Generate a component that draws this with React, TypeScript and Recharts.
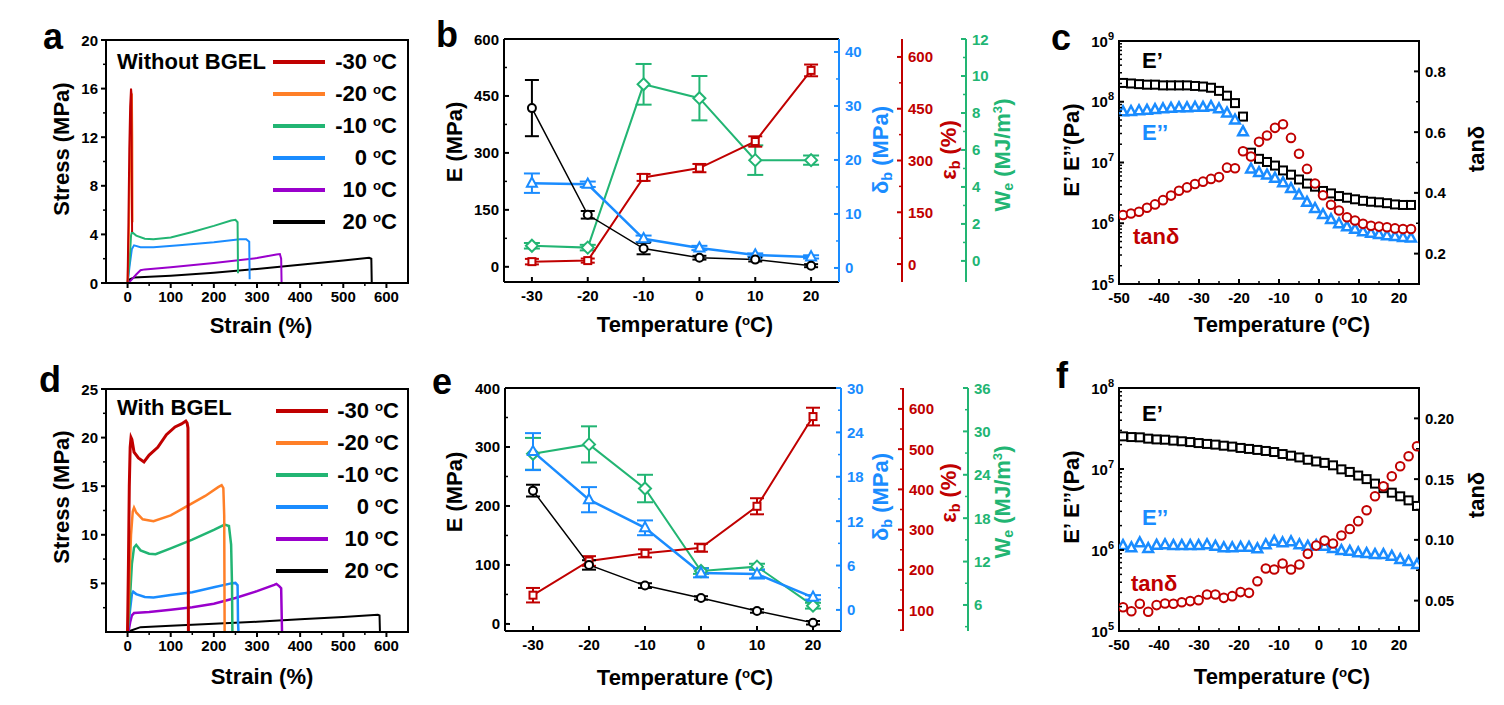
import React from 'react'
import { ComposedChart, Line, XAxis, YAxis, ReferenceArea, ReferenceLine, ErrorBar } from 'recharts'

const FONT = '"Liberation Sans", Arial, Helvetica, sans-serif'
const RED = '#C00000'
const ORANGE = '#FF7F27'
const GREEN = '#22B573'
const BLUE = '#1A8CFF'
const PURPLE = '#9A00CC'
const BLACK = '#000000'

// ---------- a: stress-strain, without BGEL  [strain %, stress MPa]
const aM30 = [[0, 0], [2, 5], [4, 11], [6, 14.5], [8, 16], [9, 15.6], [10, 8], [10.5, 4.2]]
const aM20 = [[0, 0], [3, 4], [6, 10], [8, 14], [10, 15.6], [11, 12], [11.5, 5]]
const aM10 = [[0, 0], [5, 2], [8, 3.9], [10, 4.2], [20, 3.9], [40, 3.65], [60, 3.6], [100, 3.75], [150, 4.2], [200, 4.7], [240, 5.15], [250, 5.2], [255, 5.0], [256, 0.8]]
const aZero = [[0, 0], [5, 1.5], [10, 2.8], [15, 3.1], [30, 2.95], [60, 2.95], [120, 3.1], [200, 3.35], [260, 3.6], [275, 3.6], [282, 3.4], [283, 0.3]]
const aP10 = [[2, 0], [10, 0.3], [20, 0.7], [30, 1.05], [40, 1.12], [100, 1.3], [200, 1.65], [300, 2.05], [345, 2.35], [353, 2.38], [356, 2.0], [357, 0]]
const aP20 = [[0, 0], [5, 0.3], [15, 0.45], [100, 0.6], [200, 0.85], [300, 1.15], [400, 1.5], [500, 1.85], [560, 2.07], [565, 2.0], [566, 0]]

// ---------- d: stress-strain, with BGEL
const dM30 = [[0, 0], [2, 7], [4, 15], [6, 19], [8, 20], [10, 19.8], [15, 18.5], [25, 17.9], [38, 17.5], [50, 18.2], [70, 19], [90, 20.3], [110, 21.1], [125, 21.4], [135, 21.7], [138, 21.5], [140, 21], [141, 0]]
const dM20 = [[0, 0], [4, 5], [8, 10], [12, 12.4], [15, 12.8], [20, 12.3], [35, 11.6], [60, 11.4], [100, 12], [140, 13], [180, 14], [210, 14.9], [218, 15.1], [222, 14.8], [224, 12], [225, 0]]
const dM10 = [[0, 0], [5, 3], [10, 7], [15, 8.7], [20, 8.95], [30, 8.4], [50, 8.05], [65, 8.0], [100, 8.6], [150, 9.5], [200, 10.5], [225, 11.05], [235, 10.9], [240, 9], [242, 5], [243, 0]]
const dZero = [[0, 0], [5, 2], [10, 3.9], [13, 4.15], [20, 3.9], [40, 3.6], [60, 3.55], [100, 3.8], [150, 4.1], [200, 4.6], [240, 5.0], [250, 5.05], [255, 4.8], [256, 1], [257, 0]]
const dP10 = [[2, 0], [6, 1], [10, 1.7], [15, 1.95], [50, 2.05], [100, 2.3], [150, 2.55], [200, 2.9], [250, 3.5], [300, 4.2], [340, 4.85], [345, 4.95], [352, 4.7], [356, 4.5], [358, 0]]
const dP20 = [[0, 0], [5, 0.1], [30, 0.5], [100, 0.65], [200, 0.85], [300, 1.05], [400, 1.3], [500, 1.55], [580, 1.78], [584, 1.7], [585, 0]]

const legendTemps = ['-30', '-20', '-10', '0', '10', '20']
const legendColors = [RED, ORANGE, GREEN, BLUE, PURPLE, BLACK]

// ---------- b / e: properties vs temperature
const mechTemps = [-30, -20, -10, 0, 10, 20]
const bModulus = [418, 137, 48, 24, 19, 3]
const bModulusErr = [74, 10, 15, 5, 5, 4]
const bStrength = [15.7, 15.5, 5.4, 3.7, 2.4, 2.05]
const bStrengthErr = [1.8, 0.5, 0.6, 0.4, 0.3, 0.3]
const bElong = [7, 10, 251, 278, 355, 561]
const bElongErr = [8, 6, 10, 12, 15, 17]
const bWork = [0.82, 0.72, 9.55, 8.8, 5.45, 5.45]
const bWorkErr = [0.15, 0.15, 1.1, 1.2, 0.8, 0.25]

const eModulus = [226, 100, 65, 44, 22, 2]
const eModulusErr = [10, 8, 4, 3, 3, 3]
const eStrength = [21.4, 14.9, 11.1, 5.0, 4.84, 1.7]
const eStrengthErr = [2.5, 1.7, 1.0, 0.6, 0.6, 0.3]
const eElong = [137, 222, 241, 255, 358, 581]
const eElongErr = [18, 12, 10, 10, 20, 22]
const eWork = [26.9, 28.2, 22.1, 10.7, 11.3, 5.9]
const eWorkErr = [2.2, 2.5, 1.9, 0.4, 0.4, 0.4]

// ---------- c: DMA without BGEL
const cTemps = [-49, -47, -45, -43, -41, -39, -37, -35, -33, -31, -29, -27, -25, -23, -21, -19, -17, -15, -13, -11, -9, -7, -5, -3, -1, 1, 3, 5, 7, 9, 11, 13, 15, 17, 19, 21, 23]
const cStorage = [2.04e8, 2.0e8, 1.95e8, 1.91e8, 1.91e8, 1.86e8, 1.86e8, 1.86e8, 1.86e8, 1.82e8, 1.78e8, 1.7e8, 1.51e8, 1.26e8, 9.5e7, 5.7e7, 1.45e7, 1.15e7, 1.02e7, 8.9e6, 7.4e6, 6.3e6, 5.25e6, 4.5e6, 4.0e6, 3.4e6, 3.1e6, 2.8e6, 2.63e6, 2.48e6, 2.34e6, 2.26e6, 2.21e6, 2.14e6, 2.04e6, 2.0e6, 2.0e6]
const cLoss = [6.8e7, 6.9e7, 7.1e7, 7.2e7, 7.4e7, 7.6e7, 7.8e7, 7.9e7, 7.9e7, 8.1e7, 8.1e7, 8.3e7, 7.6e7, 6.5e7, 5.0e7, 3.2e7, 7.8e6, 6.8e6, 6.2e6, 5.5e6, 4.6e6, 3.7e6, 2.9e6, 2.2e6, 1.74e6, 1.38e6, 1.15e6, 9.8e5, 8.7e5, 7.9e5, 7.2e5, 6.8e5, 6.5e5, 6.2e5, 6.0e5, 5.8e5, 5.7e5]
const cTan = [0.327, 0.332, 0.338, 0.351, 0.362, 0.376, 0.391, 0.407, 0.418, 0.429, 0.437, 0.446, 0.452, 0.483, 0.481, 0.537, 0.52, 0.568, 0.589, 0.614, 0.626, 0.581, 0.529, 0.479, 0.431, 0.392, 0.361, 0.342, 0.32, 0.309, 0.298, 0.292, 0.289, 0.287, 0.283, 0.281, 0.281]

// ---------- f: DMA with BGEL
const fTemps = [-49, -46.9, -44.8, -42.7, -40.6, -38.5, -36.4, -34.3, -32.2, -30.1, -28, -25.9, -23.8, -21.7, -19.6, -17.5, -15.4, -13.3, -11.2, -9.1, -7, -4.9, -2.8, -0.7, 1.4, 3.5, 5.6, 7.7, 9.8, 11.9, 14, 16.1, 18.2, 20.3, 22.4, 24.5]
const fStorage = [2.53e7, 2.48e7, 2.46e7, 2.37e7, 2.32e7, 2.3e7, 2.24e7, 2.2e7, 2.15e7, 2.09e7, 2.04e7, 2.0e7, 1.94e7, 1.89e7, 1.82e7, 1.77e7, 1.72e7, 1.67e7, 1.62e7, 1.53e7, 1.46e7, 1.39e7, 1.3e7, 1.24e7, 1.19e7, 1.11e7, 9.9e6, 9.2e6, 8.3e6, 7.5e6, 6.6e6, 5.8e6, 5.1e6, 4.6e6, 4.1e6, 3.5e6]
const fLoss = [1.13e6, 1.06e6, 1.22e6, 1.04e6, 1.14e6, 1.16e6, 1.13e6, 1.13e6, 1.13e6, 1.13e6, 1.16e6, 1.11e6, 1.06e6, 1.06e6, 1.08e6, 1.08e6, 1.03e6, 1.16e6, 1.28e6, 1.22e6, 1.26e6, 1.16e6, 1.11e6, 1.13e6, 1.11e6, 1.04e6, 9.8e5, 9.6e5, 9.2e5, 9.0e5, 8.75e5, 8.75e5, 8.35e5, 7.6e5, 7.2e5, 6.6e5]
const fTan = [0.0446, 0.0413, 0.0474, 0.0408, 0.0463, 0.0476, 0.0474, 0.0487, 0.0496, 0.0504, 0.055, 0.055, 0.0523, 0.0537, 0.057, 0.0564, 0.066, 0.0764, 0.0756, 0.0805, 0.0756, 0.0797, 0.0885, 0.0953, 0.0994, 0.097, 0.1036, 0.109, 0.1154, 0.1244, 0.1359, 0.1441, 0.1524, 0.1606, 0.1688, 0.177]

// ---------- helpers
const toXY = (pts: number[][]) => pts.map(([x, y]) => ({ x, y }))
const zipXV = (xs: number[], vs: number[]) => xs.map((x, i) => ({ x, v: vs[i] }))
const range = (a: number, b: number, s: number) => {
  const out: number[] = []
  for (let v = a; v <= b + 1e-9; v += s) out.push(Math.round(v * 1000) / 1000)
  return out
}
const logMinors = (lo: number, hi: number) => {
  const out: number[] = []
  for (let e = lo; e < hi; e++) for (let m = 2; m <= 9; m++) out.push(m * Math.pow(10, e))
  return out
}

const Sup = ({ children }: { children: React.ReactNode }) => (
  <span style={{ fontSize: '0.6em', verticalAlign: '0.6em' }}>{children}</span>
)
const Sub = ({ children }: { children: React.ReactNode }) => (
  <span style={{ fontSize: '0.65em', verticalAlign: '-0.25em' }}>{children}</span>
)

function Txt({ x, y, size = 22, color = BLACK, rotate = false, align = 'center', children }: any) {
  const tx = align === 'center' ? '-50%' : align === 'left' ? '0%' : '-100%'
  return (
    <div
      style={{
        position: 'absolute',
        left: x,
        top: y,
        transform: `translate(${tx},-50%)${rotate ? ' rotate(-90deg)' : ''}`,
        fontFamily: FONT,
        fontWeight: 'bold',
        fontSize: size,
        color,
        lineHeight: 1,
        whiteSpace: 'nowrap',
      }}
    >
      {children}
    </div>
  )
}

type TickOpts = {
  side: 'left' | 'right' | 'bottom'
  inward: boolean
  majors: number[]
  color?: string
  fmt?: (v: number) => React.ReactNode
}

function tickRenderer(o: TickOpts) {
  const color = o.color || BLACK
  return (p: any) => {
    const v = Number(p.payload.value)
    const major = o.majors.some((m) => Math.abs(m - v) <= Math.abs(m) * 1e-6 + 1e-9)
    const len = major ? 5 : 3
    const x = p.x
    const y = p.y
    const label = major ? (o.fmt ? o.fmt(v) : String(v)) : null
    const textProps = { fontFamily: FONT, fontWeight: 'bold' as const, fontSize: 15, fill: color }
    let line
    let text = null
    if (o.side === 'bottom') {
      const d = o.inward ? -len : len
      line = <line x1={x} y1={y} x2={x} y2={y + d} stroke={color} strokeWidth={major ? 2 : 1.5} />
      if (label !== null)
        text = (
          <text x={x} y={y + 19} textAnchor="middle" {...textProps}>
            {label}
          </text>
        )
    } else if (o.side === 'left') {
      const d = o.inward ? len : -len
      line = <line x1={x} y1={y} x2={x + d} y2={y} stroke={color} strokeWidth={major ? 2 : 1.5} />
      if (label !== null)
        text = (
          <text x={x - (o.inward ? 5 : 8)} y={y + 5.5} textAnchor="end" {...textProps}>
            {label}
          </text>
        )
    } else {
      const d = o.inward ? -len : len
      line = <line x1={x} y1={y} x2={x + d} y2={y} stroke={color} strokeWidth={major ? 2 : 1.5} />
      if (label !== null)
        text = (
          <text x={x + 6} y={y + 5.5} textAnchor="start" {...textProps}>
            {label}
          </text>
        )
    }
    return (
      <g key={`t-${p.index}`}>
        {line}
        {text}
      </g>
    )
  }
}

const logFmt = (v: number) => {
  const e = Math.round(Math.log10(v))
  return (
    <>
      10
      <tspan dy={-7} fontSize={11}>
        {e}
      </tspan>
    </>
  )
}

function Marker({ kind, cx, cy, color, size, sw = 2 }: any) {
  if (cx == null || cy == null || isNaN(cx) || isNaN(cy)) return <g />
  const h = size
  if (kind === 'circle') return <circle cx={cx} cy={cy} r={h} fill="#fff" stroke={color} strokeWidth={sw} />
  if (kind === 'square')
    return <rect x={cx - h} y={cy - h} width={2 * h} height={2 * h} fill="#fff" stroke={color} strokeWidth={sw} />
  if (kind === 'triangle')
    return (
      <polygon
        points={`${cx},${cy - h * 1.15} ${cx + h},${cy + h * 0.7} ${cx - h},${cy + h * 0.7}`}
        fill="#fff"
        stroke={color}
        strokeWidth={sw}
      />
    )
  return (
    <polygon
      points={`${cx},${cy - h} ${cx + h},${cy} ${cx},${cy + h} ${cx - h},${cy}`}
      fill="#fff"
      stroke={color}
      strokeWidth={sw}
    />
  )
}

const dotOf = (kind: string, color: string, size: number, sw = 2) => (p: any) =>
  <Marker key={`d-${p.index}`} kind={kind} cx={p.cx} cy={p.cy} color={color} size={size} sw={sw} />

const axisLine = (c: string) => ({ stroke: c, strokeWidth: 2 })

// ---------- stress-strain panel (a, d)
function StrainPanel({ left, top, curves, yMax, yMajors, yMinors }: any) {
  return (
    <div style={{ position: 'absolute', left, top }}>
      <ComposedChart width={360} height={310} margin={{ top: 20, right: 12, bottom: 19, left: 0 }}>
        <XAxis
          dataKey="x"
          type="number"
          domain={[-50, 650]}
          allowDataOverflow
          ticks={[...range(0, 600, 100), ...range(50, 550, 100)]}
          interval={0}
          tick={tickRenderer({ side: 'bottom', inward: false, majors: range(0, 600, 100) })}
          tickLine={false}
          tickSize={0}
          tickMargin={0}
          height={28}
          axisLine={axisLine(BLACK)}
        />
        <YAxis
          type="number"
          domain={[0, yMax]}
          allowDataOverflow
          ticks={[...yMajors, ...yMinors]}
          interval={0}
          tick={tickRenderer({ side: 'left', inward: false, majors: yMajors })}
          tickLine={false}
          tickSize={0}
          tickMargin={0}
          width={46}
          axisLine={axisLine(BLACK)}
        />
        <ReferenceArea x1={-50} x2={650} y1={0} y2={yMax} fill="none" stroke={BLACK} strokeWidth={2} />
        {curves.map((c: any, i: number) => (
          <Line
            key={i}
            data={toXY(c.pts)}
            dataKey="y"
            type="linear"
            stroke={c.color}
            strokeWidth={c.width || 2}
            dot={false}
            activeDot={false}
            isAnimationActive={false}
          />
        ))}
      </ComposedChart>
    </div>
  )
}

function StrainLegend({ lineLeft, textRight, firstY }: any) {
  return (
    <>
      {legendTemps.map((t, i) => (
        <React.Fragment key={t}>
          <div
            style={{
              position: 'absolute',
              left: lineLeft,
              top: firstY + i * 32 - 2,
              width: 52,
              height: 4,
              background: legendColors[i],
            }}
          />
          <Txt x={textRight} y={firstY + i * 32} align="right">
            {t} <Sup>o</Sup>C
          </Txt>
        </React.Fragment>
      ))}
    </>
  )
}

// ---------- property panel (b, e)
// right axes are stacked by id: r1 (strength) next to the plot, then r2 (elongation), r3 (work)
function MechPanel({ left, top, rows, eAx, sAx, pAx, wAx }: any) {
  const rightAxis = (ax: any, id: string) => (
    <YAxis
      yAxisId={id}
      orientation="right"
      type="number"
      domain={ax.domain}
      allowDataOverflow
      ticks={[...ax.majors, ...ax.minors]}
      interval={0}
      tick={tickRenderer({ side: 'right', inward: true, majors: ax.majors, color: ax.color })}
      tickLine={false}
      tickSize={0}
      tickMargin={0}
      width={ax.width}
      axisLine={axisLine(ax.color)}
    />
  )
  return (
    <div style={{ position: 'absolute', left, top }}>
      <ComposedChart width={590} height={310} data={rows} margin={{ top: 20, right: eAx.mr, bottom: 19, left: 0 }}>
        <XAxis
          dataKey="t"
          type="number"
          domain={[-35, 25]}
          allowDataOverflow
          ticks={mechTemps}
          interval={0}
          tick={tickRenderer({ side: 'bottom', inward: true, majors: mechTemps })}
          tickLine={false}
          tickSize={0}
          tickMargin={0}
          height={28}
          axisLine={axisLine(BLACK)}
        />
        <YAxis
          yAxisId="E"
          type="number"
          domain={eAx.domain}
          allowDataOverflow
          ticks={[...eAx.majors, ...eAx.minors]}
          interval={0}
          tick={tickRenderer({ side: 'left', inward: true, majors: eAx.majors })}
          tickLine={false}
          tickSize={0}
          tickMargin={0}
          width={eAx.width}
          axisLine={axisLine(BLACK)}
        />
        {rightAxis(sAx, 'r1')}
        {rightAxis(pAx, 'r2')}
        {rightAxis(wAx, 'r3')}
        <ReferenceLine yAxisId="E" y={eAx.domain[1]} stroke={BLACK} strokeWidth={2} />
        <Line yAxisId="r3" dataKey="W" stroke={GREEN} strokeWidth={2} dot={dotOf('diamond', GREEN, 6)} activeDot={false} isAnimationActive={false}>
          <ErrorBar dataKey="We" width={8} strokeWidth={2} stroke={GREEN} direction="y" />
        </Line>
        <Line yAxisId="r2" dataKey="P" stroke={RED} strokeWidth={2} dot={dotOf('square', RED, 3.5)} activeDot={false} isAnimationActive={false}>
          <ErrorBar dataKey="Pe" width={7} strokeWidth={2} stroke={RED} direction="y" />
        </Line>
        <Line yAxisId="r1" dataKey="S" stroke={BLUE} strokeWidth={2.5} dot={dotOf('triangle', BLUE, 5)} activeDot={false} isAnimationActive={false}>
          <ErrorBar dataKey="Se" width={8} strokeWidth={2} stroke={BLUE} direction="y" />
        </Line>
        <Line yAxisId="E" dataKey="E" stroke={BLACK} strokeWidth={1.5} dot={dotOf('circle', BLACK, 4)} activeDot={false} isAnimationActive={false}>
          <ErrorBar dataKey="Ee" width={7} strokeWidth={2} stroke={BLACK} direction="y" />
        </Line>
      </ComposedChart>
    </div>
  )
}

const mechRows = (E: number[], Ee: number[], S: number[], Se: number[], P: number[], Pe: number[], W: number[], We: number[]) =>
  mechTemps.map((t, i) => ({ t, E: E[i], Ee: Ee[i], S: S[i], Se: Se[i], P: P[i], Pe: Pe[i], W: W[i], We: We[i] }))

// ---------- DMA panel (c, f)
function DmaPanel({ left, top, temps, storage, loss, tan, logLo, logHi, tanAx }: any) {
  const logMajors = range(logLo, logHi, 1).map((e) => Math.pow(10, e))
  const xMajors = range(-50, 20, 10)
  return (
    <div style={{ position: 'absolute', left, top }}>
      <ComposedChart width={444} height={310} margin={{ top: 20, right: 25, bottom: 19, left: 0 }}>
        <XAxis
          dataKey="x"
          type="number"
          domain={[-50, 25]}
          allowDataOverflow
          ticks={[...xMajors, ...range(-45, 15, 10)]}
          interval={0}
          tick={tickRenderer({ side: 'bottom', inward: true, majors: xMajors })}
          tickLine={false}
          tickSize={0}
          tickMargin={0}
          height={28}
          axisLine={axisLine(BLACK)}
        />
        <YAxis
          yAxisId="L"
          type="number"
          scale="log"
          domain={[logMajors[0], logMajors[logMajors.length - 1]]}
          allowDataOverflow
          ticks={[...logMajors, ...logMinors(logLo, logHi)]}
          interval={0}
          tick={tickRenderer({ side: 'left', inward: true, majors: logMajors, fmt: logFmt })}
          tickLine={false}
          tickSize={0}
          tickMargin={0}
          width={59}
          axisLine={axisLine(BLACK)}
        />
        <YAxis
          yAxisId="R"
          orientation="right"
          type="number"
          domain={tanAx.domain}
          allowDataOverflow
          ticks={[...tanAx.majors, ...tanAx.minors]}
          interval={0}
          tick={tickRenderer({ side: 'right', inward: true, majors: tanAx.majors, fmt: tanAx.fmt })}
          tickLine={false}
          tickSize={0}
          tickMargin={0}
          width={60}
          axisLine={axisLine(BLACK)}
        />
        <ReferenceArea
          yAxisId="L"
          x1={-50}
          x2={25}
          y1={logMajors[0]}
          y2={logMajors[logMajors.length - 1]}
          fill="none"
          stroke={BLACK}
          strokeWidth={2}
        />
        <Line yAxisId="L" data={zipXV(temps, storage)} dataKey="v" stroke="none" dot={dotOf('square', BLACK, 4)} activeDot={false} isAnimationActive={false} />
        <Line yAxisId="L" data={zipXV(temps, loss)} dataKey="v" stroke="none" dot={dotOf('triangle', BLUE, 4.8, 2.5)} activeDot={false} isAnimationActive={false} />
        <Line yAxisId="R" data={zipXV(temps, tan)} dataKey="v" stroke="none" dot={dotOf('circle', RED, 4.3)} activeDot={false} isAnimationActive={false} />
      </ComposedChart>
    </div>
  )
}

export default function App() {
  const bRows = mechRows(bModulus, bModulusErr, bStrength, bStrengthErr, bElong, bElongErr, bWork, bWorkErr)
  const eRows = mechRows(eModulus, eModulusErr, eStrength, eStrengthErr, eElong, eElongErr, eWork, eWorkErr)

  const aCurves = [
    { color: BLACK, pts: aP20 },
    { color: PURPLE, pts: aP10 },
    { color: BLUE, pts: aZero },
    { color: GREEN, pts: aM10 },
    { color: ORANGE, pts: aM20 },
    { color: RED, pts: aM30 },
  ]
  const dCurves = [
    { color: BLACK, pts: dP20 },
    { color: PURPLE, pts: dP10, width: 2.5 },
    { color: BLUE, pts: dZero, width: 2.5 },
    { color: GREEN, pts: dM10, width: 2.5 },
    { color: ORANGE, pts: dM20, width: 2.5 },
    { color: RED, pts: dM30, width: 3 },
  ]

  return (
    <div style={{ position: 'absolute', left: 0, top: 0, width: 1504, height: 705, background: '#fff', overflow: 'hidden' }}>
      {/* a */}
      <StrainPanel left={60} top={20} curves={aCurves} yMax={20} yMajors={range(0, 20, 4)} yMinors={range(2, 18, 4)} />
      <Txt x={53} y={37} size={36}>a</Txt>
      <Txt x={117} y={62} align="left">Without BGEL</Txt>
      <StrainLegend lineLeft={273} textRight={397} firstY={62} />
      <Txt x={62} y={149} rotate>Stress (MPa)</Txt>
      <Txt x={261} y={326}>Strain (%)</Txt>

      {/* d */}
      <StrainPanel left={60} top={369} curves={dCurves} yMax={25} yMajors={range(5, 25, 5)} yMinors={range(2.5, 22.5, 5)} />
      <Txt x={50} y={380} size={36}>d</Txt>
      <Txt x={117} y={408} align="left">With BGEL</Txt>
      <StrainLegend lineLeft={276} textRight={399} firstY={411} />
      <Txt x={62} y={497} rotate>Stress (MPa)</Txt>
      <Txt x={262} y={677}>Strain (%)</Txt>

      {/* b */}
      <MechPanel
        left={440}
        top={19}
        rows={bRows}
        eAx={{ domain: [-40, 600], majors: range(0, 600, 150), minors: range(75, 525, 150), width: 64, mr: 14 }}
        sAx={{ domain: [-2.6, 42.4], majors: range(0, 40, 10), minors: range(5, 35, 10), color: BLUE, width: 63 }}
        pAx={{ domain: [-52, 652], majors: range(0, 600, 150), minors: range(75, 525, 150), color: RED, width: 64 }}
        wAx={{ domain: [-1.14, 12], majors: range(0, 12, 2), minors: range(1, 11, 2), color: GREEN, width: 50 }}
      />
      <Txt x={447} y={35} size={36}>b</Txt>
      <Txt x={455} y={142} rotate>E (MPa)</Txt>
      <Txt x={685} y={325}>Temperature (<Sup>o</Sup>C)</Txt>
      <Txt x={882} y={150} rotate color={BLUE}>δ<Sub>b</Sub> (MPa)</Txt>
      <Txt x={950} y={150} rotate color={RED}>ε<Sub>b</Sub> (%)</Txt>
      <Txt x={1003} y={155} rotate color={GREEN}>W<Sub>e</Sub> (MJ/m<Sup>3</Sup>)</Txt>

      {/* e */}
      <MechPanel
        left={440}
        top={368}
        rows={eRows}
        eAx={{ domain: [-12, 400], majors: range(0, 400, 100), minors: range(50, 350, 100), width: 65, mr: 12 }}
        sAx={{ domain: [-2.85, 30], majors: range(0, 30, 6), minors: range(3, 27, 6), color: BLUE, width: 62 }}
        pAx={{ domain: [48, 652], majors: range(100, 600, 100), minors: range(50, 650, 100), color: RED, width: 65 }}
        wAx={{ domain: [2.4, 36], majors: range(6, 36, 6), minors: range(3, 33, 6), color: GREEN, width: 50 }}
      />
      <Txt x={442} y={382} size={36}>e</Txt>
      <Txt x={455} y={492} rotate>E (MPa)</Txt>
      <Txt x={685} y={678}>Temperature (<Sup>o</Sup>C)</Txt>
      <Txt x={882} y={497} rotate color={BLUE}>δ<Sub>b</Sub> (MPa)</Txt>
      <Txt x={950} y={493} rotate color={RED}>ε<Sub>b</Sub> (%)</Txt>
      <Txt x={1003} y={502} rotate color={GREEN}>W<Sub>e</Sub> (MJ/m<Sup>3</Sup>)</Txt>

      {/* c */}
      <DmaPanel
        left={1060}
        top={21}
        temps={cTemps}
        storage={cStorage}
        loss={cLoss}
        tan={cTan}
        logLo={5}
        logHi={9}
        tanAx={{ domain: [0.1, 0.9], majors: [0.2, 0.4, 0.6, 0.8], minors: [0.3, 0.5, 0.7], fmt: (v: number) => v.toFixed(1) }}
      />
      <Txt x={1061} y={38} size={36}>c</Txt>
      <Txt x={1072} y={150} rotate>E’ E’’(Pa)</Txt>
      <Txt x={1477} y={149} rotate>tanδ</Txt>
      <Txt x={1282} y={325}>Temperature (<Sup>o</Sup>C)</Txt>
      <Txt x={1142} y={61} align="left">E’</Txt>
      <Txt x={1142} y={133} align="left" color={BLUE}>E’’</Txt>
      <Txt x={1133} y={237} align="left" color={RED}>tanδ</Txt>

      {/* f */}
      <DmaPanel
        left={1060}
        top={368}
        temps={fTemps}
        storage={fStorage}
        loss={fLoss}
        tan={fTan}
        logLo={5}
        logHi={8}
        tanAx={{ domain: [0.025, 0.225], majors: [0.05, 0.1, 0.15, 0.2], minors: [0.075, 0.125, 0.175], fmt: (v: number) => v.toFixed(2) }}
      />
      <Txt x={1062} y={376} size={36}>f</Txt>
      <Txt x={1072} y={497} rotate>E’ E’’(Pa)</Txt>
      <Txt x={1477} y={495} rotate>tanδ</Txt>
      <Txt x={1282} y={677}>Temperature (<Sup>o</Sup>C)</Txt>
      <Txt x={1142} y={414} align="left">E’</Txt>
      <Txt x={1142} y={518} align="left" color={BLUE}>E’’</Txt>
      <Txt x={1131} y={584} align="left" color={RED}>tanδ</Txt>
    </div>
  )
}
